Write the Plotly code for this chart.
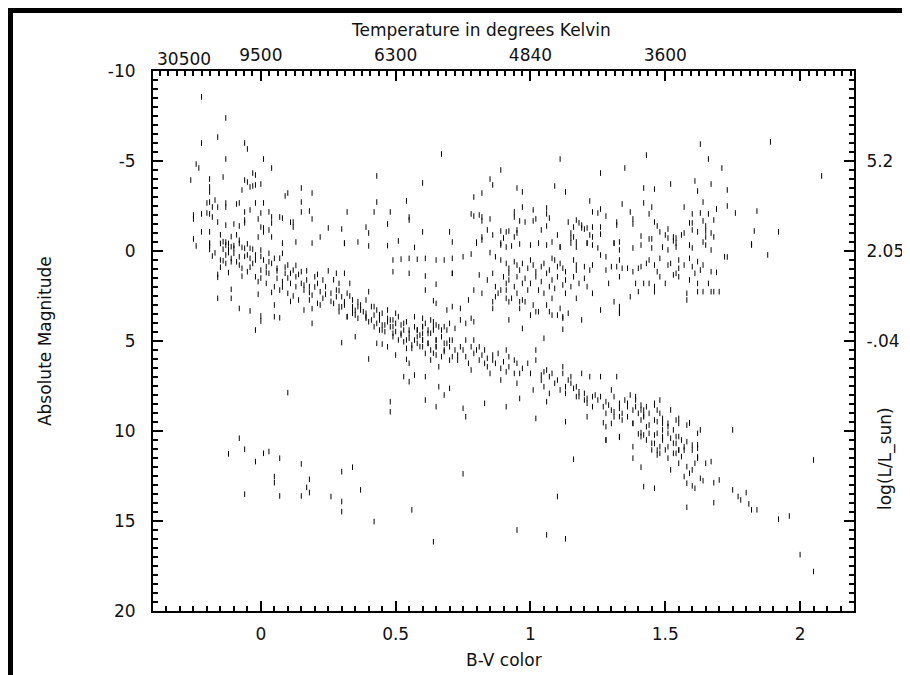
import plotly.graph_objects as go

# (B-V colour, absolute magnitude)
bright_stars = [
    (-0.22, -8.56), (-0.13, -7.39), (-0.22, -6.0), (-0.16, -6.33), (-0.06, -6.0), (-0.05, -5.67),
    (-0.13, -5.11), (0.01, -5.11), (-0.24, -4.83), (-0.23, -4.61), (0.04, -4.61), (-0.26, -3.94),
    (-0.19, -4.0), (-0.14, -4.11), (-0.06, -3.94), (-0.03, -4.33), (-0.02, -4.22), (-0.05, -3.83),
    (-0.04, -3.56), (-0.03, -3.61), (-0.02, -3.67), (0.0, -3.72), (-0.19, -3.56), (-0.19, -3.28),
    (-0.07, -3.39), (0.09, -3.06), (0.10, -3.22), (0.15, -3.5), (0.19, -3.22), (0.43, -4.17),
    (0.54, -2.78), (0.43, -2.72), (-0.20, -2.67), (-0.19, -2.72), (-0.17, -2.83), (-0.16, -2.44),
    (-0.18, -2.44), (-0.13, -2.67), (-0.13, -2.44), (-0.09, -2.61), (-0.08, -2.67), (-0.02, -2.67),
    (0.01, -2.67), (-0.25, -2.0), (-0.25, -1.78), (-0.22, -2.06), (-0.20, -2.11), (-0.19, -2.06),
    (-0.18, -1.89), (-0.16, -1.61), (-0.13, -1.44), (-0.10, -1.5), (-0.08, -1.39), (-0.06, -1.72),
    (-0.06, -1.56), (-0.04, -2.28), (-0.06, -2.17), (-0.01, -1.78), (0.0, -2.11), (0.03, -2.17),
    (0.0, -1.33), (0.01, -1.28), (0.01, -1.06), (0.03, -1.17), (0.04, -1.89), (0.04, -1.56),
    (0.07, -1.89), (0.12, -1.61), (0.12, -1.33), (0.15, -2.17), (0.15, -2.72), (0.18, -2.22),
    (0.19, -1.78), (0.25, -1.28), (0.30, -1.22), (0.32, -2.17), (0.39, -1.33), (0.40, -1.0),
    (0.42, -2.17), (0.48, -2.17), (0.47, -1.5), (0.55, -1.89), (0.55, -1.72), (0.51, -0.56),
    (0.31, -0.44), (0.22, -0.78), (0.19, -0.44), (0.13, -0.5), (0.08, -0.44), (0.04, -0.78),
    (-0.01, -0.78), (-0.19, -1.06), (-0.22, -1.06), (-0.25, -0.67), (-0.24, -0.28), (-0.19, -0.44),
    (-0.19, -0.28), (-0.15, -0.9), (-0.13, -0.5), (-0.11, -0.8), (-0.10, -0.3), (-0.08, -0.6),
    (-0.07, -0.2), (-0.12, -0.1), (-0.09, -0.9), (-0.05, -0.4), (-0.03, -0.1), (0.08, -1.83),
    (0.11, -1.6), (0.60, -3.78), (0.67, -5.39), (0.60, -1.06), (0.31, -0.42), (0.40, -0.28),
    (0.47, -0.3), (0.36, -0.5), (0.57, -0.2), (0.49, 0.5), (0.52, 0.45), (0.55, 0.41), (0.58, 0.46),
    (0.55, 1.24), (0.49, 1.15),
]

main_sequence = [
    (-0.19, -0.42), (-0.19, -0.09), (-0.18, 0.28), (-0.15, -0.42), (-0.14, -0.52), (-0.13, -0.33),
    (-0.12, -0.42), (-0.11, -0.24), (-0.10, -0.15), (-0.08, -0.42), (-0.15, 0.50), (-0.14, 0.54),
    (-0.13, 0.69), (-0.13, 0.22), (-0.12, 0.09), (-0.11, 0.41), (-0.10, 0.13), (-0.08, 0.32),
    (-0.08, 0.78), (-0.07, 0.96), (-0.06, -0.15), (-0.05, 0.22), (-0.05, 1.15), (-0.04, 0.41),
    (-0.04, -0.15), (-0.03, 0.69), (-0.02, 1.43), (-0.02, 0.22), (-0.01, 1.70), (0.00, 1.06),
    (0.00, -0.05), (0.01, 0.50), (0.02, 1.80), (0.02, 0.87), (0.03, 0.13), (0.03, 1.24),
    (0.04, 0.69), (0.05, 1.98), (0.05, 0.41), (0.06, 1.52), (0.06, 0.96), (0.07, 2.17),
    (0.08, 0.13), (0.08, 1.70), (0.09, 1.24), (0.10, 0.78), (0.10, 2.35), (0.11, 1.80),
    (0.11, 1.24), (0.12, 1.06), (0.13, 1.98), (0.13, 1.43), (0.14, 2.72), (0.15, 1.80),
    (0.15, 1.15), (0.16, 2.17), (0.16, 3.28), (0.17, 1.61), (0.18, 2.72), (0.18, 1.98),
    (0.19, 2.45), (0.20, 1.43), (0.21, 2.91), (0.21, 1.80), (0.22, 2.26), (0.23, 1.61),
    (0.23, 2.63), (0.24, 1.98), (0.26, 2.35), (0.27, 2.91), (0.28, 1.24), (0.28, 2.17),
    (0.29, 1.80), (0.29, 3.37), (0.30, 2.54), (0.31, 1.24), (0.31, 3.00), (0.32, 3.65),
    (0.32, 2.35), (0.33, 1.80), (0.34, 3.28), (0.34, 2.72), (0.35, 3.56), (0.36, 3.09),
    (0.36, 3.74), (0.37, 3.00), (0.38, 3.37), (0.39, 2.72), (0.39, 3.65), (0.40, 2.26),
    (0.40, 3.93), (0.41, 3.09), (0.42, 3.56), (0.42, 4.21), (0.43, 3.28), (0.44, 3.83),
    (0.44, 3.56), (0.45, 4.11), (0.45, 3.46), (0.46, 4.48), (0.47, 3.93), (0.47, 3.74),
    (0.48, 4.21), (0.49, 4.76), (0.49, 3.83), (0.50, 4.48), (0.50, 4.02), (0.51, 3.65),
    (0.52, 4.67), (0.52, 4.11), (0.53, 5.04), (0.53, 4.39), (0.54, 3.93), (0.55, 4.85),
    (0.55, 4.58), (0.56, 5.41), (0.57, 4.21), (0.57, 4.95), (0.58, 4.39), (0.58, 5.13),
    (0.59, 4.67), (-0.16, 1.30), (-0.16, 1.46), (-0.16, 2.63), (-0.11, 2.13), (-0.11, 2.63),
    (-0.08, 3.19), (-0.04, 3.33), (0.00, 3.61), (0.00, 3.89), (-0.02, 4.39), (0.05, 3.65),
    (0.07, 3.71), (0.19, 4.02), (0.30, 5.09), (0.35, 4.76), (0.40, 6.00), (0.43, 5.13),
    (0.45, 5.17), (0.47, 5.32), (0.50, 5.78), (0.53, 6.98), (0.55, 7.26), (0.57, 6.89),
    (0.10, 7.87), (0.48, 8.37), (0.48, 8.93), (0.54, 6.02), (0.55, 6.24),
    (-0.15, 0.9), (-0.12, 1.2), (-0.09, 0.6), (-0.07, 1.4), (-0.04, 0.9), (-0.02, 0.5),
    (0.0, 1.5), (0.02, 1.2), (0.04, 2.3), (0.06, 1.1), (0.08, 2.0), (0.10, 1.5), (0.12, 2.5),
    (0.14, 1.3), (0.16, 1.9), (0.18, 2.3), (0.20, 2.0), (0.22, 3.0), (0.24, 2.4), (0.26, 2.8),
    (0.27, 1.6), (0.29, 2.2), (0.30, 3.1), (0.33, 2.5), (0.35, 3.3), (-0.17, 0.1), (-0.14, -0.1),
    (-0.11, 0.6), (-0.06, 0.3), (0.0, 0.3), (0.03, 0.6), (0.07, 0.4), (0.09, 0.9), (0.13, 0.8),
    (0.17, 1.1), (0.21, 1.3), (0.25, 1.1), (0.05, 3.0), (-0.01, 2.4), (0.11, 2.8), (0.19, 3.2),
    (0.28, 2.54), (0.29, 3.09), (0.32, 3.65), (0.34, 3.46), (0.37, 3.28), (0.39, 3.74),
    (0.42, 3.09), (0.43, 4.02), (0.44, 3.56), (0.45, 4.39), (0.47, 3.28), (0.48, 3.83),
    (0.49, 4.2), (0.50, 3.46), (0.52, 4.57), (0.53, 4.02), (0.54, 4.94), (0.55, 4.39),
    (0.57, 3.65), (0.58, 4.76), (0.59, 5.31), (0.60, 4.2), (0.62, 5.13), (0.63, 4.57),
    (0.64, 5.68), (0.65, 4.94), (0.67, 4.39), (0.68, 5.5), (0.69, 5.13), (0.70, 6.06),
    (0.58, 4.39), (0.60, 4.94), (0.62, 4.39), (0.65, 5.31), (0.67, 5.87), (0.56, 5.22),
    (0.54, 5.41), (0.51, 4.94), (0.49, 4.57), (0.46, 4.11), (0.44, 4.39), (0.41, 3.83),
    (0.39, 3.46), (0.36, 2.82), (0.34, 3.09), (0.31, 2.82), (0.63, 3.83), (0.64, 4.2), (0.65, 4.11),
    (0.60, 3.74), (0.60, 4.21), (0.60, 4.58), (0.60, 4.95), (0.60, 5.32), (0.61, 5.69),
    (0.61, 4.02), (0.62, 4.58), (0.62, 5.13), (0.63, 5.50), (0.63, 6.06), (0.64, 3.93),
    (0.64, 4.39), (0.65, 4.95), (0.65, 5.32), (0.65, 5.78), (0.66, 6.43), (0.66, 4.21),
    (0.67, 4.76), (0.68, 5.13), (0.68, 5.59), (0.69, 4.39), (0.70, 4.95), (0.70, 5.32),
    (0.71, 5.87), (0.71, 4.95), (0.72, 5.50), (0.73, 5.78), (0.73, 6.06), (0.74, 5.32),
    (0.74, 3.83), (0.75, 5.50), (0.76, 4.95), (0.76, 5.87), (0.77, 6.24), (0.78, 5.32),
    (0.78, 6.61), (0.79, 5.69), (0.79, 4.95), (0.80, 5.50), (0.81, 6.06), (0.81, 5.32),
    (0.82, 5.78), (0.83, 6.24), (0.83, 5.50), (0.84, 5.96), (0.84, 6.43), (0.85, 6.80),
    (0.86, 5.78), (0.86, 6.06), (0.87, 6.24), (0.88, 5.69), (0.89, 6.52), (0.89, 7.17),
    (0.90, 6.15), (0.91, 6.71), (0.91, 5.50), (0.92, 5.87), (0.92, 6.43), (0.94, 6.80),
    (0.94, 6.06), (0.95, 7.35), (0.95, 6.24), (0.96, 6.80), (0.97, 6.52), (0.99, 6.24),
    (1.00, 6.80), (1.01, 7.72), (1.02, 5.50), (1.02, 6.06), (1.04, 6.89), (1.04, 7.17),
    (1.05, 6.71), (1.05, 7.54), (1.06, 6.61), (1.07, 6.98), (1.07, 7.91), (1.08, 6.80),
    (1.09, 7.35), (1.10, 7.17), (1.11, 7.72), (1.12, 6.80), (1.12, 6.43), (1.13, 7.54),
    (1.13, 7.91), (1.14, 7.17), (1.15, 6.98), (1.15, 7.35), (1.16, 7.63), (1.17, 8.09),
    (1.17, 7.54), (1.18, 7.82), (1.18, 8.09), (1.19, 6.80), (1.20, 7.91), (1.20, 8.28),
    (1.21, 8.19), (1.21, 8.46), (1.22, 6.98), (1.23, 8.09), (1.23, 8.65), (1.24, 8.00),
    (1.25, 8.28), (1.26, 6.98), (1.26, 8.09), (1.27, 8.65), (1.28, 8.37), (1.28, 9.02),
    (1.29, 8.56), (1.30, 7.72), (1.30, 8.84), (1.31, 9.21), (1.31, 8.09), (1.32, 6.98),
    (1.33, 8.74), (1.33, 8.46), (1.34, 9.02), (1.34, 9.39), (1.35, 8.28), (1.36, 8.65),
    (1.36, 9.21), (1.37, 8.00), (1.38, 8.84), (1.38, 9.58), (1.39, 8.65), (1.39, 8.28),
    (1.40, 9.02), (1.41, 9.39), (1.41, 8.56), (1.42, 9.21), (1.42, 8.84), (1.43, 9.76),
    (1.44, 9.02), (1.46, 8.56), (1.46, 9.39), (1.47, 8.84), (1.48, 8.28), (1.49, 9.30),
    (1.49, 9.58), (1.51, 9.76), (1.54, 9.39), (1.55, 9.58), (1.58, 9.67), (1.59, 9.54),
    (0.61, 8.28), (0.61, 6.98), (0.65, 8.65), (0.66, 7.54), (0.68, 8.00), (0.70, 7.63),
    (0.75, 8.74), (0.76, 9.21), (0.83, 8.46), (0.91, 8.65), (0.96, 8.19), (1.02, 9.30),
    (1.06, 8.37), (1.13, 9.48), (1.21, 9.21), (1.28, 9.76), (1.30, 9.58),
    (1.27, 9.54), (1.31, 8.93), (1.33, 9.20), (1.36, 8.46), (1.38, 9.57), (1.39, 8.09),
    (1.41, 8.83), (1.42, 9.11), (1.43, 8.65), (1.44, 9.67), (1.46, 8.46), (1.47, 9.48),
    (1.48, 9.02), (1.49, 9.94), (1.49, 10.31), (1.51, 9.57), (1.52, 8.83), (1.53, 9.94),
    (1.54, 10.69), (1.55, 9.30), (1.55, 10.31), (1.57, 11.06), (1.58, 10.59), (1.59, 9.57),
    (1.60, 11.06), (1.60, 10.78), (1.62, 10.13), (1.62, 10.96), (1.62, 11.43), (1.46, 10.69),
    (1.47, 11.06), (1.48, 11.24), (1.51, 10.87), (1.53, 11.24), (1.55, 11.06), (1.47, 10.13),
    (1.41, 10.31), (1.38, 10.87), (1.33, 10.31), (1.28, 10.50), (1.75, 9.94), (1.59, 9.57),
    (1.28, 10.50), (1.33, 10.35), (1.38, 11.51), (1.41, 12.01), (1.42, 13.09), (1.46, 13.18),
    (1.58, 14.24), (1.68, 13.98), (1.92, 14.90), (1.96, 14.72), (1.82, 14.38), (1.84, 14.38),
    (1.81, 14.05), (1.78, 13.83), (1.77, 13.64), (1.75, 13.27), (1.80, 13.42), (1.70, 12.72),
    (1.68, 12.87), (1.67, 11.70), (1.64, 12.76), (1.63, 12.63), (1.65, 11.79), (1.61, 11.79),
    (1.62, 11.51), (1.62, 10.77), (1.60, 12.16), (1.59, 12.35), (1.58, 12.90), (1.60, 13.05),
    (1.61, 13.18), (1.58, 11.98), (1.56, 11.42), (1.55, 11.05), (1.54, 11.24), (1.53, 10.68),
    (1.51, 11.51), (1.50, 11.05), (1.49, 10.50), (1.48, 10.87), (1.47, 11.33), (1.46, 10.22),
    (1.45, 10.68), (1.45, 11.05), (1.44, 10.13), (1.43, 10.50), (1.42, 10.22), (1.41, 10.09),
    (1.40, 10.16), (1.51, 10.13), (1.52, 10.40), (1.54, 10.31), (1.56, 10.50), (1.57, 10.87),
    (1.55, 11.79), (1.57, 12.53), (1.63, 9.94), (1.52, 12.16),
]

giants = [
    (0.89, -4.5), (1.11, -5.11), (1.26, -4.33), (1.35, -4.61), (1.43, -5.33), (1.63, -5.94),
    (1.66, -5.11), (1.71, -4.61), (1.89, -6.06), (2.08, -4.17), (0.85, -4.0), (0.86, -3.67),
    (0.79, -3.0), (0.82, -3.22), (0.95, -3.5), (0.97, -3.28), (1.09, -3.61), (1.13, -3.28),
    (1.42, -3.5), (1.46, -3.44), (1.52, -3.72), (1.61, -3.89), (1.62, -3.33), (1.67, -3.72),
    (1.73, -3.39), (1.22, -2.78), (1.34, -2.61), (1.42, -2.67), (1.45, -2.44), (1.57, -2.44),
    (1.64, -2.72), (1.73, -2.5), (1.69, -2.33), (1.76, -2.11), (1.84, -2.22), (1.83, -1.11),
    (1.92, -1.06), (1.82, -0.33), (0.70, -1.06), (0.71, -0.5),
    (0.78, -2.06), (0.79, -1.94), (0.81, -2.0), (0.82, -1.89), (0.82, -1.67), (0.85, -1.78),
    (0.84, -1.17), (0.86, -0.89), (0.82, -0.78), (0.82, -0.61), (0.80, -0.5), (0.89, -1.11),
    (0.90, -0.72), (0.89, -0.44), (0.91, -1.06), (0.92, -1.11), (0.94, -2.17), (0.94, -1.89),
    (0.96, -1.67), (0.97, -2.44), (0.98, -1.61), (0.95, -1.17), (0.94, -0.78), (0.95, -1.0),
    (1.01, -2.28), (1.02, -1.78), (1.01, -1.67), (1.04, -1.17), (1.06, -2.39), (1.06, -2.06),
    (1.07, -1.83), (1.06, -1.39), (1.10, -0.89), (1.11, -0.22), (1.14, -1.61), (1.16, -1.33),
    (1.17, -1.72), (1.18, -1.56), (1.19, -1.44), (1.15, -1.0), (1.15, -0.72), (1.16, -0.78),
    (1.17, -0.5), (1.19, -1.28), (1.20, -1.22), (1.21, -1.28), (1.23, -1.33), (1.22, -0.89),
    (1.23, -0.78), (1.21, -0.44), (1.23, -2.17), (1.25, -2.11), (1.26, -2.33), (1.28, -1.94),
    (1.26, -1.33), (1.26, -0.94),
    (1.32, -1.61), (1.32, -1.44), (1.31, -0.44), (1.33, -0.5), (1.38, -1.78), (1.38, -1.5),
    (1.37, -2.17), (1.44, -2.06), (1.41, -0.83), (1.44, -0.67), (1.45, -0.67), (1.46, -1.61),
    (1.47, -1.39), (1.48, -1.06), (1.50, -0.89), (1.51, -1.22), (1.51, -0.72), (1.53, -0.78),
    (1.53, -0.56), (1.54, -0.72), (1.54, -0.44), (1.56, -0.89), (1.57, -1.0), (1.59, -1.56),
    (1.60, -2.06), (1.60, -1.56), (1.60, -1.17), (1.62, -1.06), (1.63, -2.11), (1.64, -1.67),
    (1.65, -1.39), (1.65, -1.11), (1.65, -0.78), (1.66, -2.06), (1.67, -1.0), (1.68, -1.72),
    (1.68, -0.78),
    (0.80, -0.44), (0.89, -0.33), (0.91, -0.22), (0.93, -0.28), (0.96, -0.39), (1.00, -0.33),
    (1.03, -0.44), (1.06, -0.33), (1.08, -0.5), (1.11, -0.22), (1.15, -0.44), (1.17, -0.22),
    (1.21, -0.44), (1.23, -0.33), (1.25, -0.17), (1.31, -0.44), (1.33, -0.06), (1.38, -0.17),
    (1.41, -0.33), (1.45, -0.17), (1.49, -0.22), (1.51, -0.06), (1.54, -0.22), (1.59, -0.33),
    (1.60, -0.17), (1.64, -0.5), (1.65, -0.33), (1.67, -0.06), (1.82, -0.39), (1.88, 0.22),
    (1.73, 0.33),
    (0.61, 0.41), (0.65, 0.50), (0.68, 0.50), (0.71, 0.41), (0.75, 0.32), (0.78, 0.17),
    (0.85, 0.09), (0.87, 0.32), (0.89, 0.50), (0.91, 0.69), (0.92, 0.96), (0.92, 1.24),
    (0.94, 0.59), (0.95, 0.78), (0.96, 1.06), (0.97, 0.69), (0.99, 0.96), (1.00, 0.50),
    (1.01, 0.78), (1.02, 1.15), (1.04, 0.87), (1.05, 0.69), (1.07, 1.06), (1.08, 0.41),
    (1.09, 0.50), (1.10, 0.87), (1.11, 0.69), (1.12, 0.96), (1.13, 1.15), (1.16, 0.50),
    (1.17, 0.78), (1.17, 1.06), (1.20, 0.87), (1.22, 1.06), (1.23, 0.78), (1.26, 0.22),
    (1.28, 0.32), (1.28, 1.06), (1.30, 0.87), (1.32, 0.87), (1.33, 0.50), (1.34, 0.96),
    (1.36, 0.96), (1.38, 1.15), (1.40, 0.96), (1.41, 0.87), (1.43, 0.69), (1.44, 0.50),
    (1.46, 0.78), (1.48, 0.41), (1.51, 0.78), (1.52, 0.69), (1.54, 1.24), (1.55, 0.50),
    (1.57, 0.78), (1.59, 0.41), (1.60, 0.87), (1.62, 0.59), (1.63, 1.06), (1.67, 1.15),
    (1.69, 1.19), (0.61, 1.39), (0.71, 1.24),
    (0.84, 1.61), (0.86, 1.24), (0.87, 1.98), (0.88, 2.35), (0.90, 1.43), (0.91, 1.80),
    (0.91, 2.17), (0.92, 1.61), (0.93, 2.63), (0.94, 1.98), (0.95, 1.43), (0.95, 2.35),
    (0.96, 2.82), (0.97, 1.80), (0.98, 1.52), (0.99, 2.17), (1.00, 1.80), (1.01, 3.0),
    (1.02, 3.37), (1.02, 1.43), (1.03, 2.17), (1.04, 1.70), (1.05, 2.35), (1.06, 1.24),
    (1.06, 3.0), (1.07, 1.98), (1.07, 3.37), (1.08, 1.61), (1.08, 2.63), (1.09, 2.08),
    (1.10, 3.56), (1.10, 1.43), (1.11, 3.19), (1.12, 1.89), (1.12, 3.65), (1.13, 2.35),
    (1.13, 1.61), (1.14, 3.46), (1.15, 1.98), (1.16, 1.43), (1.17, 2.63), (1.18, 1.80),
    (1.20, 1.52), (1.21, 1.98), (1.23, 2.35), (1.26, 3.28), (1.29, 1.80), (1.31, 2.82),
    (1.33, 3.09), (1.33, 3.37), (1.33, 1.43), (1.37, 2.54), (1.39, 1.80), (1.40, 2.26),
    (1.42, 1.80), (1.44, 1.80), (1.46, 1.98), (1.46, 2.26), (1.47, 1.15), (1.48, 1.43),
    (1.50, 1.80), (1.53, 1.33), (1.55, 0.96), (1.55, 1.43), (1.58, 2.35), (1.58, 2.72),
    (1.59, 1.61), (1.61, 1.24), (1.62, 1.80), (1.62, 2.26), (1.64, 0.78), (1.64, 2.26),
    (1.66, 1.80), (1.67, 2.26), (1.68, 2.26), (1.70, 2.26), (1.72, 0.32), (0.79, 2.17),
    (0.82, 2.35), (0.86, 2.82), (0.86, 3.19), (0.87, 2.54), (0.89, 2.17), (0.91, 2.63),
    (0.92, 2.82), (0.96, 3.19), (0.97, 2.72), (0.98, 2.82), (1.00, 3.56), (1.03, 3.37),
    (1.08, 3.56), (1.12, 3.74), (0.77, 2.72), (0.74, 3.19), (0.71, 3.09), (0.69, 3.28),
    (0.71, 1.24), (0.65, 1.85), (0.61, 2.17), (0.64, 2.76), (0.65, 2.91), (0.81, 1.33),
    (0.92, 3.83), (0.97, 4.30), (1.33, 3.46), (1.19, 3.83), (0.68, 4.2), (0.70, 4.02),
    (0.72, 4.3), (0.76, 4.02), (0.78, 3.74), (0.79, 3.93), (1.05, 4.85), (1.12, 4.35),
]

faint_stars = [
    (-0.08, 10.40), (-0.12, 11.27), (-0.06, 11.01), (-0.02, 11.70), (0.01, 11.24), (0.03, 11.14),
    (0.07, 11.51), (0.15, 11.83), (0.05, 12.53), (0.05, 12.87), (-0.06, 13.51), (0.07, 13.61),
    (0.15, 13.61), (0.18, 12.68), (0.17, 13.13), (0.18, 13.42), (0.26, 13.64), (0.30, 12.26),
    (0.30, 13.92), (0.30, 14.48), (0.34, 12.01), (0.37, 13.27), (0.42, 15.03), (0.56, 14.38),
    (0.75, 12.38), (0.64, 16.15), (0.95, 15.50), (1.06, 15.77), (1.13, 15.99), (1.10, 13.64),
    (1.16, 11.57), (2.05, 11.61), (2.00, 16.87), (2.05, 17.81),
]

x_tick_vals = [0, 0.5, 1, 1.5, 2]
x_tick_text = ["0", "0.5", "1", "1.5", "2"]
y_tick_vals = [-10, -5, 0, 5, 10, 15, 20]
y_tick_text = ["-10", "-5", "0", "5", "10", "15", "20"]
temp_tick_vals = [0, 0.5, 1, 1.5, 2]
temp_tick_text = ["9500", "6300", "4840", "3600", ""]
temp_hot_label = (-0.285, "30500")
lum_tick_text = ["", "5.2", "2.05", "-.04", "", "", ""]

FONT = "DejaVu Sans"
dash = dict(symbol="line-ns", size=4, line=dict(width=1, color="black"), color="black")

fig = go.Figure()
for group in (bright_stars, main_sequence, faint_stars):
    fig.add_trace(go.Scatter(x=[p[0] for p in group], y=[p[1] for p in group], mode="markers",
                             marker=dash, showlegend=False, hoverinfo="skip", xaxis="x", yaxis="y"))
fig.add_trace(go.Scatter(x=[p[0] for p in giants], y=[p[1] for p in giants], mode="markers",
                         marker=dash, showlegend=False, hoverinfo="skip", xaxis="x2", yaxis="y2"))

base = dict(showline=True, linecolor="black", linewidth=2, ticks="inside", ticklen=10, tickwidth=2,
            tickcolor="black", showgrid=False, zeroline=False, automargin=False,
            tickfont=dict(family=FONT, size=17, color="#111"), tickmode="array")
minor_base = dict(ticks="inside", ticklen=5, tickwidth=2, tickcolor="black", showgrid=False, tick0=0)

# the page adds an 8px body margin, so the figure is 8px smaller than the window
fig.update_layout(
    width=902, height=667,
    margin=dict(l=145, r=56, t=63, b=64),
    paper_bgcolor="white", plot_bgcolor="white",
    xaxis=dict(base, range=[-0.4, 2.2], tickvals=x_tick_vals, ticktext=x_tick_text,
               minor=dict(minor_base, dtick=0.05), ticklabelstandoff=7),
    xaxis2=dict(base, range=[-0.4, 2.2], tickvals=temp_tick_vals, ticktext=temp_tick_text,
                overlaying="x", side="top", anchor="y",
                minor=dict(minor_base, dtick=0.03125), ticklabelstandoff=1),
    yaxis=dict(base, range=[20, -10], tickvals=y_tick_vals, ticktext=y_tick_text,
               minor=dict(minor_base, dtick=0.5), ticklabelstandoff=12),
    yaxis2=dict(base, range=[20, -10], tickvals=y_tick_vals, ticktext=lum_tick_text,
                overlaying="y", side="right", anchor="x",
                minor=dict(minor_base, dtick=0.5), ticklabelstandoff=7),
)

title_font = dict(family=FONT, size=17, color="#111")
fig.add_annotation(text="Temperature in degrees Kelvin", xref="paper", yref="paper", x=0.468, y=1.076,
                   showarrow=False, font=title_font, xanchor="center", yanchor="middle")
fig.add_annotation(text=temp_hot_label[1], xref="x", yref="paper", x=temp_hot_label[0], y=1.022,
                   showarrow=False, font=dict(family=FONT, size=17, color="#111"),
                   xanchor="center", yanchor="middle")
fig.add_annotation(text="B-V color", xref="paper", yref="paper", x=0.5, y=-0.0907,
                   showarrow=False, font=title_font, xanchor="center", yanchor="middle")
fig.add_annotation(text="Absolute Magnitude", xref="paper", yref="paper", x=-0.154, y=0.5,
                   showarrow=False, font=title_font, textangle=-90, xanchor="center", yanchor="middle")
fig.add_annotation(text="log(L/L_sun)", xref="paper", yref="paper", x=1.044, y=0.283,
                   showarrow=False, font=title_font, textangle=-90, xanchor="center", yanchor="middle")

# black frame strips along the top and left edges of the picture
fig.add_shape(type="rect", xref="paper", yref="paper", x0=-0.2083, x1=1.12, y0=1.1074, y1=1.1185,
              fillcolor="black", line=dict(width=0), layer="above")
fig.add_shape(type="rect", xref="paper", yref="paper", x0=-0.2083, x1=-0.1997, y0=-0.2, y1=1.1185,
              fillcolor="black", line=dict(width=0), layer="above")

fig.write_html("out.html")
